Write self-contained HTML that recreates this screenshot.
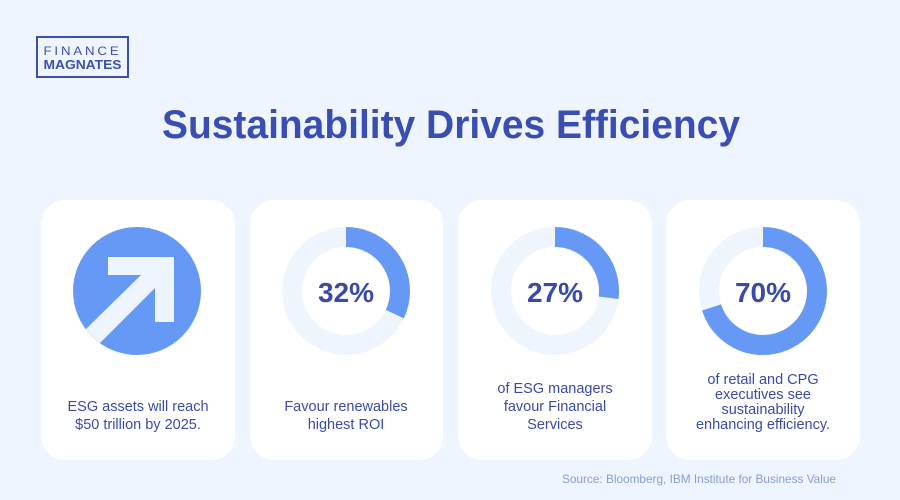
<!DOCTYPE html>
<html><head><meta charset="utf-8"><style>
html,body{margin:0;padding:0;background:#eef5fe;}
svg{display:block;}
text{font-family:"Liberation Sans",sans-serif;}
</style></head><body>
<svg width="900" height="500" viewBox="0 0 900 500" xmlns="http://www.w3.org/2000/svg">
<defs>
<clipPath id="c1"><circle cx="137" cy="291" r="64"/></clipPath>
</defs>
<rect width="900" height="500" fill="#eef5fe"/>
<rect x="37" y="37" width="91" height="40" fill="none" stroke="#3a4fb0" stroke-width="2"/>
<text x="82.5" y="55" text-anchor="middle" font-size="12" fill="#3a4fb0" letter-spacing="2.6" textLength="78" lengthAdjust="spacingAndGlyphs">FINANCE</text>
<text x="82.5" y="69" text-anchor="middle" font-size="12.5" font-weight="bold" fill="#3a4fb0" textLength="78" lengthAdjust="spacingAndGlyphs">MAGNATES</text>
<text x="451" y="138" text-anchor="middle" font-size="40" font-weight="bold" fill="#3a4db2" textLength="578" lengthAdjust="spacingAndGlyphs">Sustainability Drives Efficiency</text>
<rect x="41" y="200" width="194" height="260" rx="24" fill="#fff"/>
<rect x="250" y="200" width="193" height="260" rx="24" fill="#fff"/>
<rect x="458" y="200" width="194" height="260" rx="24" fill="#fff"/>
<rect x="666" y="200" width="194" height="260" rx="24" fill="#fff"/>
<circle cx="137" cy="291" r="64" fill="#6699f5"/>
<g clip-path="url(#c1)">
<polygon points="108,257 174,257 174,322 155,322 155,288 100,343 86,329 141,275 108,275" fill="#eef5fe"/>
<polygon points="86,329 100,343 60,383 46,369" fill="#eef5fe"/>
</g>
<g fill="none" stroke-width="20">
<circle cx="346" cy="291" r="54" stroke="#eef5fd"/>
<circle cx="346" cy="291" r="54" stroke="#6699f5" stroke-dasharray="108.6 400" transform="rotate(-90 346 291)"/>
<circle cx="555" cy="291" r="54" stroke="#eef5fd"/>
<circle cx="555" cy="291" r="54" stroke="#6699f5" stroke-dasharray="91.6 400" transform="rotate(-90 555 291)"/>
<circle cx="763" cy="291" r="54" stroke="#eef5fd"/>
<circle cx="763" cy="291" r="54" stroke="#6699f5" stroke-dasharray="237.5 400" transform="rotate(-90 763 291)"/>
</g>
<g font-size="28" font-weight="bold" fill="#3a4aa8" text-anchor="middle">
<text x="346" y="302">32%</text>
<text x="555" y="302">27%</text>
<text x="763" y="302">70%</text>
</g>
<g font-size="14.5" fill="#3a4aa8" text-anchor="middle">
<text x="138" y="411">ESG assets will reach</text>
<text x="138" y="429">$50 trillion by 2025.</text>
<text x="346" y="411">Favour renewables</text>
<text x="346" y="429">highest ROI</text>
<text x="555" y="393">of ESG managers</text>
<text x="555" y="411">favour Financial</text>
<text x="555" y="429">Services</text>
<text x="763" y="384">of retail and CPG</text>
<text x="763" y="399">executives see</text>
<text x="763" y="414">sustainability</text>
<text x="763" y="429">enhancing efficiency.</text>
</g>
<text x="836" y="483" text-anchor="end" font-size="12" fill="#8a9cd6" textLength="274" lengthAdjust="spacingAndGlyphs">Source: Bloomberg, IBM Institute for Business Value</text>
</svg>
</body></html>
